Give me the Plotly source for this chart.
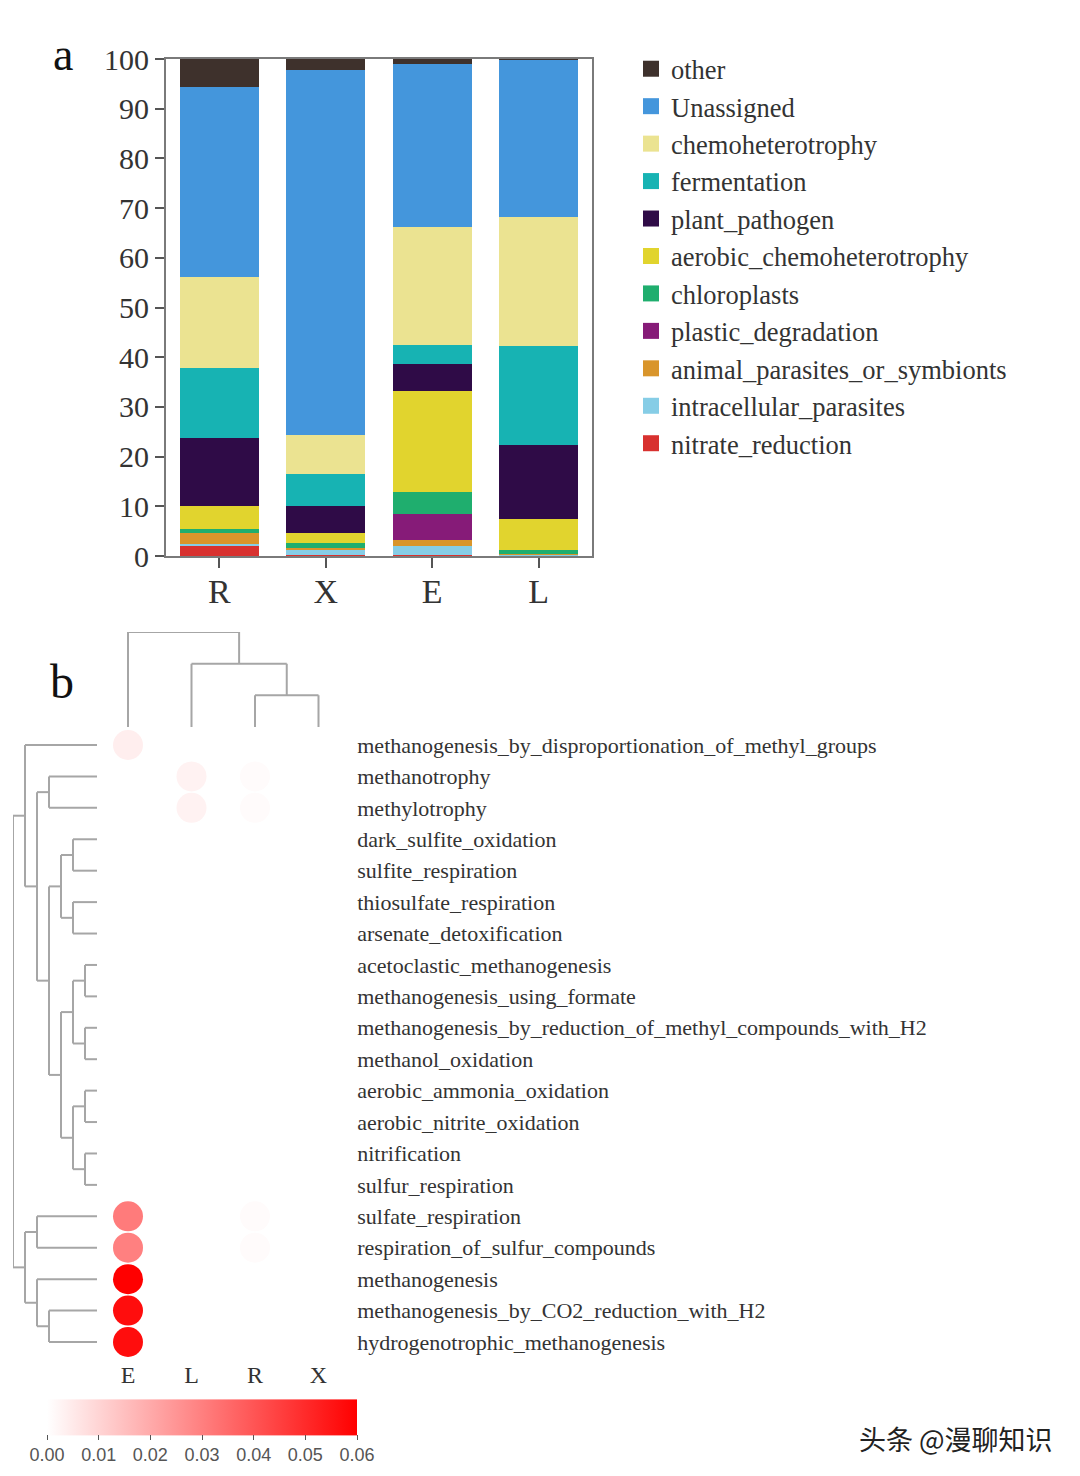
import plotly.graph_objects as go

OFF = 8              # default page margin of the html body
W, H = 1064, 1460
def px(p):
    return (p - OFF) / W
def py(p):
    return 1 - (p - OFF) / H

SERIF = "Liberation Serif"

# ---------------- panel a data ----------------
samples = ["R", "X", "E", "L"]
functions_bottom_up = [
    "nitrate_reduction", "intracellular_parasites", "animal_parasites_or_symbionts",
    "plastic_degradation", "chloroplasts", "aerobic_chemoheterotrophy",
    "plant_pathogen", "fermentation", "chemoheterotrophy", "Unassigned", "other",
]
colors_bottom_up = [
    "#d8312f", "#86cde6", "#d9952b", "#861b78", "#1fae6e", "#e1d42e",
    "#2f0b47", "#17b3b3", "#ebe391", "#4496dc", "#3e312c",
]
# percentages per sample (R, X, E, L)
nitrate_reduction = [2.2, 0.3, 0.2, 0.1]
intracellular_parasites = [0.3, 1.0, 1.8, 0.2]
animal_parasites_or_symbionts = [2.2, 0.3, 1.2, 0.2]
plastic_degradation = [0.0, 0.0, 5.3, 0.0]
chloroplasts = [0.8, 1.1, 4.3, 0.7]
aerobic_chemoheterotrophy = [4.6, 1.9, 20.3, 6.2]
plant_pathogen = [13.7, 5.5, 5.6, 15.0]
fermentation = [14.0, 6.4, 3.7, 19.8]
chemoheterotrophy = [18.3, 7.9, 23.8, 26.0]
Unassigned = [38.2, 73.4, 32.8, 31.6]
other = [5.7, 2.2, 1.0, 0.2]
series_values = [
    nitrate_reduction, intracellular_parasites, animal_parasites_or_symbionts,
    plastic_degradation, chloroplasts, aerobic_chemoheterotrophy, plant_pathogen,
    fermentation, chemoheterotrophy, Unassigned, other,
]
y_ticks_a = [0, 10, 20, 30, 40, 50, 60, 70, 80, 90, 100]

# ---------------- panel b data ----------------
col_labels = ["E", "L", "R", "X"]
row_labels = [
    "methanogenesis_by_disproportionation_of_methyl_groups",
    "methanotrophy",
    "methylotrophy",
    "dark_sulfite_oxidation",
    "sulfite_respiration",
    "thiosulfate_respiration",
    "arsenate_detoxification",
    "acetoclastic_methanogenesis",
    "methanogenesis_using_formate",
    "methanogenesis_by_reduction_of_methyl_compounds_with_H2",
    "methanol_oxidation",
    "aerobic_ammonia_oxidation",
    "aerobic_nitrite_oxidation",
    "nitrification",
    "sulfur_respiration",
    "sulfate_respiration",
    "respiration_of_sulfur_compounds",
    "methanogenesis",
    "methanogenesis_by_CO2_reduction_with_H2",
    "hydrogenotrophic_methanogenesis",
]
# abundance per row for E, L, R, X
abund_E = [0.004, 0, 0, 0, 0, 0, 0, 0, 0, 0, 0, 0, 0, 0, 0, 0.031, 0.030, 0.060, 0.057, 0.057]
abund_L = [0, 0.003, 0.003, 0, 0, 0, 0, 0, 0, 0, 0, 0, 0, 0, 0, 0, 0, 0, 0, 0]
abund_R = [0, 0.001, 0.001, 0, 0, 0, 0, 0, 0, 0, 0, 0, 0, 0, 0, 0.001, 0.001, 0, 0, 0]
abund_X = [0] * 20
color_ticks = [0.00, 0.01, 0.02, 0.03, 0.04, 0.05, 0.06]

# dendrograms: (left, right, height); leaves are indices
col_tree = (0, (1, (2, 3, 1), 2), 3)
row_tree = (
    (0,
     ((1, 2, 4),
      (((3, 4, 2), (5, 6, 2), 3),
       (((7, 8, 1), (9, 10, 1), 2), ((11, 12, 1), (13, 14, 1), 2), 3), 4), 5), 6),
    ((15, 16, 5), (17, (18, 19, 4), 5), 6),
    7,
)


def tree_segments(node):
    """Return (position, height, list of segments) for a nested linkage."""
    if isinstance(node, int):
        return float(node), 0.0, []
    a, b, h = node
    pa, ha, sa = tree_segments(a)
    pb, hb, sb = tree_segments(b)
    segs = sa + sb + [((pa, ha), (pa, h)), ((pb, hb), (pb, h)), ((pa, h), (pb, h))]
    return (pa + pb) / 2, h, segs


fig = go.Figure()

# ---------------- panel a ----------------
n = len(functions_bottom_up)
for k, (name, col, vals) in enumerate(zip(functions_bottom_up, colors_bottom_up, series_values)):
    fig.add_trace(go.Bar(
        x=samples, y=vals, name=name, marker=dict(color=col, line=dict(width=0)),
        legendgroup=name, showlegend=False, xaxis="x", yaxis="y",
    ))
    # legend entry with a larger square swatch
    fig.add_trace(go.Scatter(
        x=[None], y=[None], mode="markers", name=name, legendgroup=name,
        legendrank=n - k, marker=dict(symbol="square", size=18, color=col),
        xaxis="x", yaxis="y",
    ))

# ---------------- panel b: bubbles ----------------
bx, by, bc = [], [], []
for j, colvals in enumerate([abund_E, abund_L, abund_R, abund_X]):
    for i, v in enumerate(colvals):
        bx.append(j)
        by.append(i)
        bc.append(v)
fig.add_trace(go.Scatter(
    x=bx, y=by, mode="markers", xaxis="x2", yaxis="y2", showlegend=False,
    marker=dict(
        size=30, color=bc, cmin=0, cmax=0.06,
        colorscale=[[0, "#ffffff"], [1, "#ff0000"]], line=dict(width=0),
        colorbar=dict(
            orientation="h", x=px(202), xanchor="center", y=py(1466), yanchor="bottom",
            len=310 / W, lenmode="fraction", thickness=36, xpad=0, ypad=0,
            outlinewidth=0, tickvals=color_ticks, tickformat=".2f",
            ticks="outside", ticklen=5, tickcolor="#555", tickwidth=1,
            tickfont=dict(family="Liberation Sans", size=18, color="#555"),
        ),
    ),
))

# column dendrogram
_, _, csegs = tree_segments(col_tree)
lx, ly = [], []
for (x0, y0), (x1, y1) in csegs:
    lx += [x0, x1, None]
    ly += [y0, y1, None]
fig.add_trace(go.Scatter(x=lx, y=ly, mode="lines", xaxis="x3", yaxis="y3",
                         line=dict(color="#a6a6a6", width=2), showlegend=False,
                         hoverinfo="skip"))

# row dendrogram
_, _, rsegs = tree_segments(row_tree)
lx, ly = [], []
for (p0, h0), (p1, h1) in rsegs:
    lx += [h0, h1, None]
    ly += [p0, p1, None]
fig.add_trace(go.Scatter(x=lx, y=ly, mode="lines", xaxis="x4", yaxis="y4",
                         line=dict(color="#a6a6a6", width=2), showlegend=False,
                         hoverinfo="skip"))

# heatmap geometry
hx0, hx1 = 96.25, 350.25
hy0, hy1 = 729.3, 1357.7

fig.update_layout(
    width=W, height=H, margin=dict(l=0, r=0, t=0, b=0, autoexpand=False),
    paper_bgcolor="white", plot_bgcolor="white",
    barmode="stack", bargap=0.26,
    font=dict(family=SERIF, color="#333"),
    legend=dict(
        x=px(631), y=py(45), xanchor="left", yanchor="top",
        traceorder="normal", itemsizing="trace",
        font=dict(family=SERIF, size=26.5, color="#333"), bgcolor="rgba(0,0,0,0)",
    ),
    xaxis=dict(
        domain=[px(166), px(592)], anchor="y", showline=True, mirror=True,
        linecolor="#7a7a7a", linewidth=2, ticks="outside", ticklen=10, tickwidth=2,
        tickcolor="#555", tickfont=dict(family=SERIF, size=34, color="#333"),
        ticklabelstandoff=-6,
        showgrid=False, zeroline=False, automargin=False,
    ),
    yaxis=dict(
        domain=[py(556), py(59)], anchor="x", range=[0, 100], tickvals=y_ticks_a,
        showline=True, mirror=True, linecolor="#7a7a7a", linewidth=2,
        ticks="outside", ticklen=9, tickwidth=2, tickcolor="#555",
        tickfont=dict(family=SERIF, size=30, color="#333"),
        showgrid=False, zeroline=False, automargin=False,
    ),
    xaxis2=dict(
        domain=[px(hx0), px(hx1)], anchor="y2", range=[-0.5, 3.5],
        tickvals=list(range(4)), ticktext=col_labels, showgrid=False, zeroline=False,
        showline=False, ticks="", automargin=False,
        tickfont=dict(family=SERIF, size=24, color="#333"),
    ),
    yaxis2=dict(
        domain=[py(hy1), py(hy0)], anchor="x2", range=[19.5, -0.5], side="right",
        tickvals=list(range(20)), ticktext=row_labels, showgrid=False, zeroline=False,
        showline=False, ticks="", ticklabelstandoff=6, automargin=False,
        tickfont=dict(family=SERIF, size=22, color="#333"),
    ),
    xaxis3=dict(domain=[px(hx0), px(hx1)], anchor="y3", range=[-0.5, 3.5], visible=False),
    yaxis3=dict(domain=[py(727), py(632)], anchor="x3", range=[0, 3], visible=False),
    xaxis4=dict(domain=[px(13), px(97)], anchor="y4", range=[7, 0], visible=False),
    yaxis4=dict(domain=[py(hy1), py(hy0)], anchor="x4", range=[19.5, -0.5], visible=False),
    annotations=[
        dict(text="a", x=px(63), y=py(54), xref="paper", yref="paper",
             xanchor="center", yanchor="middle",
             showarrow=False, font=dict(family=SERIF, size=46, color="#111")),
        dict(text="b", x=px(62), y=py(682), xref="paper", yref="paper",
             xanchor="center", yanchor="middle",
             showarrow=False, font=dict(family=SERIF, size=48, color="#111")),
        dict(text="头条 @漫聊知识", x=px(956), y=py(1438), xref="paper", yref="paper",
             xanchor="center", yanchor="middle",
             showarrow=False, font=dict(family="Noto Sans CJK SC", size=27, color="#222")),
    ],
)

fig.write_html("out.html")
